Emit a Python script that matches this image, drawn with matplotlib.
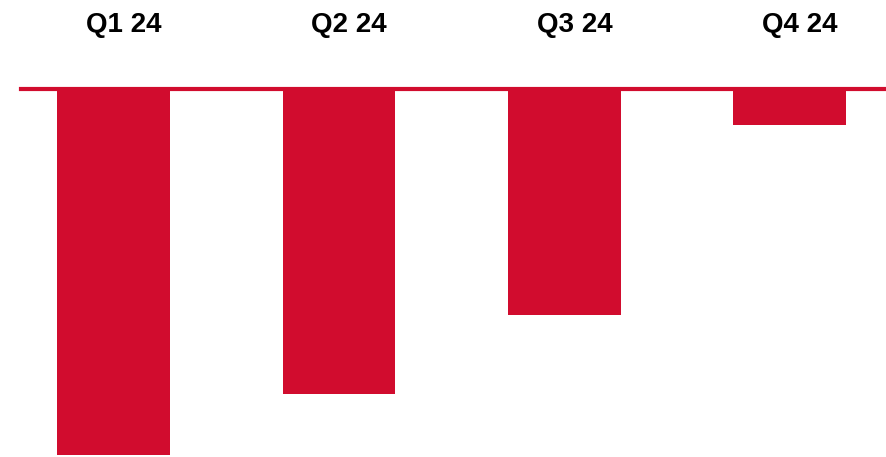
import matplotlib
matplotlib.use("Agg")
import matplotlib.pyplot as plt

quarters = ["Q1 24", "Q2 24", "Q3 24", "Q4 24"]
values = [-366.5, -305.0, -226.5, -36.0]

RED = "#D10C2E"

fig = plt.figure(figsize=(8.86, 4.57), dpi=100)
ax = fig.add_axes([0, 0, 1, 1])

x = list(range(len(quarters)))
ax.bar(x, values, width=0.5, color=RED, edgecolor="none", zorder=2)

ax.axhline(0, xmin=21 / 886, xmax=1.0, color=RED, linewidth=3.0, zorder=3)

for xi, label in zip(x, quarters):
    ax.text(xi + 0.045, 63.5, label, ha="center", va="center",
            fontsize=20, fontweight="bold", family="Liberation Sans",
            color="black")

ax.set_xlim(-0.504, 3.428)
ax.set_ylim(-368.5, 88.5)
ax.axis("off")

fig.savefig("out.png", dpi=100, facecolor="white")
